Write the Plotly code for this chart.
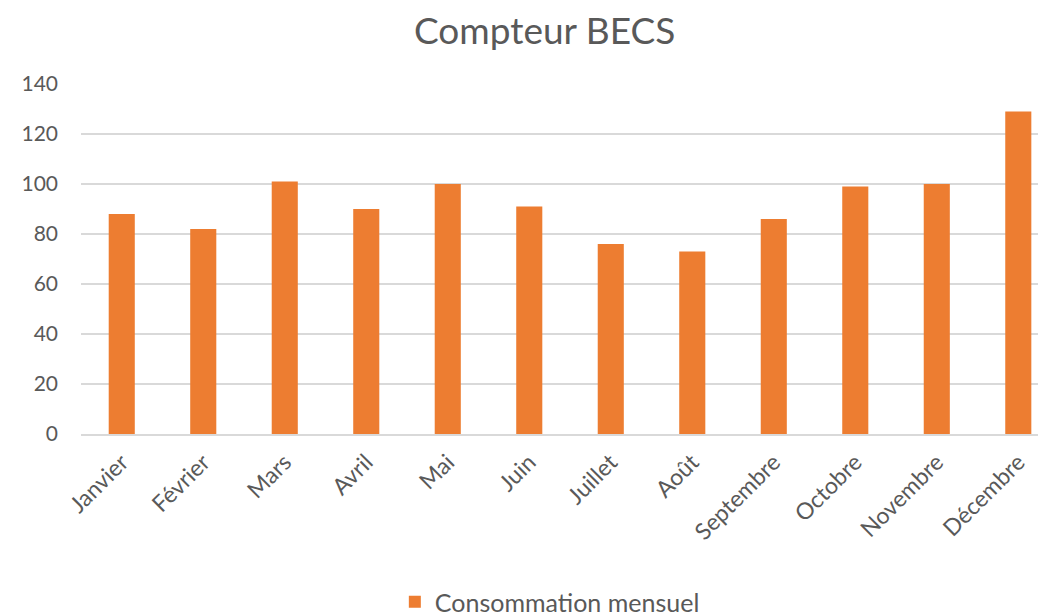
import plotly.graph_objects as go

months = ["Janvier", "Février", "Mars", "Avril", "Mai", "Juin", "Juillet",
          "Août", "Septembre", "Octobre", "Novembre", "Décembre"]
consommation = [88, 82, 101, 90, 100, 91, 76, 73, 86, 99, 100, 129]
y_ticks = [0, 20, 40, 60, 80, 100, 120, 140]

grey = "#595959"
font = "Lato"

fig = go.Figure(
    go.Bar(x=months, y=consommation, name="Consommation mensuel",
           marker=dict(color="#ED7D31", line=dict(width=0)),
           width=0.32)
)

# page body has an 8px margin, so the figure is 8px smaller than the window
fig.update_layout(
    width=1038, height=608,
    margin=dict(l=73, r=0, t=76, b=182),
    plot_bgcolor="white", paper_bgcolor="white",
    font=dict(family=font, color=grey, size=21),
    title=dict(text="Compteur BECS", x=0.517, xanchor="center",
               y=0.962, yanchor="middle", yref="container",
               font=dict(size=37, color=grey, family=font)),
    showlegend=True,
    legend=dict(orientation="h", xref="container", yref="container",
                x=0.522, xanchor="center", y=0.023, yanchor="middle",
                font=dict(size=25, color=grey)),
)
fig.update_xaxes(range=[-0.5, 11.34], tickangle=-45, showgrid=False,
                 showline=True, linecolor="#d9d9d9", linewidth=1.5,
                 ticks="", automargin=False, ticklabelstandoff=4,
                 tickfont=dict(size=23, color=grey))
fig.update_yaxes(range=[0, 140], tickvals=y_ticks, showgrid=True,
                 gridcolor="#d9d9d9", gridwidth=1.5, zeroline=False,
                 showline=False, ticks="", ticklabelstandoff=22,
                 automargin=False,
                 tickfont=dict(size=21, color=grey))

fig.write_html("out.html")
